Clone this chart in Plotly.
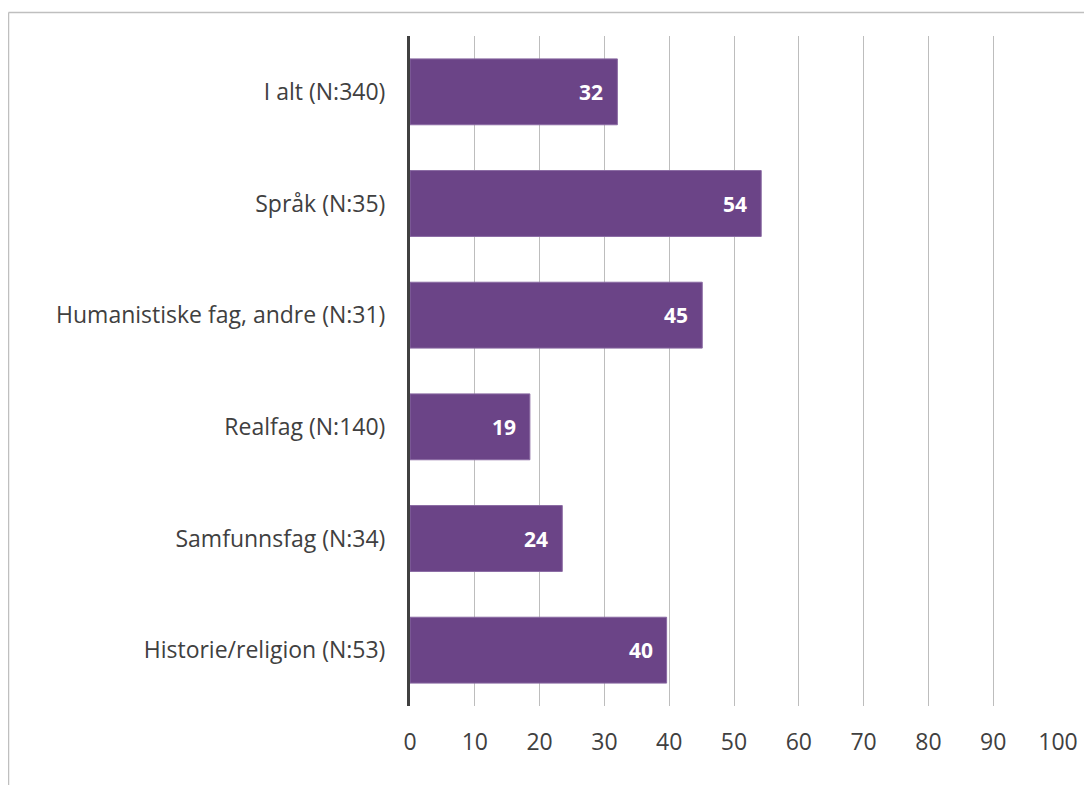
import plotly.graph_objects as go

categories = ["I alt (N:340)", "Språk (N:35)", "Humanistiske fag, andre (N:31)",
              "Realfag (N:140)", "Samfunnsfag (N:34)", "Historie/religion (N:53)"]
values = [32.0, 54.2, 45.1, 18.5, 23.5, 39.6]
labels = ["32", "54", "45", "19", "24", "40"]
x_ticks = [0, 10, 20, 30, 40, 50, 60, 70, 80, 90, 100]

# page body has an 8px margin; figure coordinates are screen minus 8
OFF = 8
W, H = 1092 - OFF, 785 - OFF
ml = 410 - OFF
mt = 36 - OFF
mr = W - (1058 - OFF)
mb = H - (706 - OFF)
pw = W - ml - mr
ph = H - mt - mb

fig = go.Figure()
fig.add_trace(go.Bar(
    y=categories, x=values, orientation="h",
    marker=dict(color="#6b4487", line=dict(color="#8a6aa3", width=1)),
    width=0.59, hoverinfo="skip",
))

for c, v, t in zip(categories, values, labels):
    fig.add_annotation(x=v, y=c, text=f"<b>{t}</b>", showarrow=False,
                       xanchor="right", xshift=-12,
                       font=dict(color="white", size=21, family="Open Sans"))

def px_x(p):
    return (p - OFF - ml) / pw

def px_y(p):
    return (H - mb - (p - OFF)) / ph

border = dict(color="#bfbfbf", width=1.5)
fig.add_shape(type="line", xref="paper", yref="paper",
              x0=px_x(8.5), x1=px_x(1100), y0=px_y(12.5), y1=px_y(12.5), line=border)
fig.add_shape(type="line", xref="paper", yref="paper",
              x0=px_x(8.5), x1=px_x(8.5), y0=px_y(12.5), y1=px_y(800), line=border)

fig.update_layout(
    width=W, height=H,
    margin=dict(l=ml, r=mr, t=mt, b=mb),
    plot_bgcolor="white", paper_bgcolor="white",
    showlegend=False,
    font=dict(family="Open Sans", color="#404040", size=23),
    xaxis=dict(range=[0, 100], tickvals=x_ticks, showgrid=True,
               gridcolor="#bdbdbd", gridwidth=1, zeroline=False,
               ticks="", ticklabelstandoff=20, fixedrange=True,
               tickfont=dict(size=23, color="#404040")),
    yaxis=dict(categoryorder="array", categoryarray=categories[::-1],
               showline=True, linecolor="#404040", linewidth=3,
               showgrid=False, ticks="", ticklabelstandoff=17,
               tickfont=dict(size=23, color="#404040")),
)

fig.write_html("out.html")
